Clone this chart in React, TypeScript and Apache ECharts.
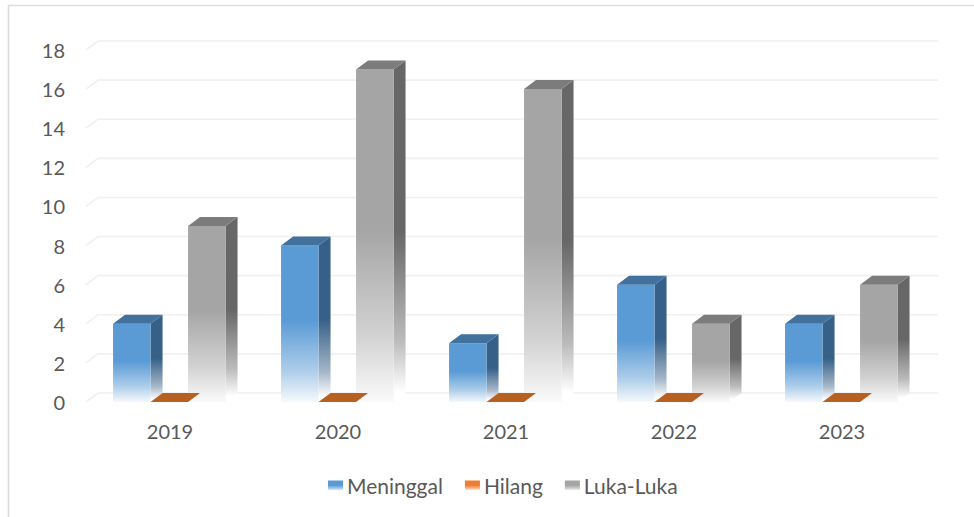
import React, { useEffect, useRef } from "react";
import * as echarts from "echarts";

const categories = ["2019", "2020", "2021", "2022", "2023"];
const meninggal = [4, 8, 3, 6, 4];
const hilang = [0, 0, 0, 0, 0];
const lukaLuka = [9, 17, 16, 4, 6];
const yTicks = [0, 2, 4, 6, 8, 10, 12, 14, 16, 18];

const DX = 12;
const DY = 9;
const BAR_FRACTION = 37.5 / 168;

function mix(hex: string, a: number) {
  const n = parseInt(hex.slice(1), 16);
  const ch = (s: number) => Math.round(((n >> s) & 255) * a + 255 * (1 - a));
  return `rgb(${ch(16)},${ch(8)},${ch(0)})`;
}

const fade = (c: string) =>
  new echarts.graphic.LinearGradient(0, 0, 0, 1, [
    { offset: 0, color: c },
    { offset: 0.48, color: c },
    { offset: 0.8, color: mix(c, 0.5) },
    { offset: 1, color: mix(c, 0.06) },
  ]);

const fadeSide = (c: string) =>
  new echarts.graphic.LinearGradient(0, 0, 0, 1, [
    { offset: 0, color: c },
    { offset: 0.5, color: c },
    { offset: 0.82, color: mix(c, 0.45) },
    { offset: 0.97, color: "#ffffff" },
    { offset: 1, color: "#ffffff" },
  ]);

const barSeries = (
  name: string,
  values: number[],
  slot: number,
  z: number,
  front: string,
  side: string,
  top: string
) => ({
  type: "custom" as const,
  name,
  z,
  itemStyle: { color: fade(front) },
  encode: { x: 0, y: 1 },
  data: values.map((v, i) => [i, v]),
  renderItem: (_: any, api: any) => {
    const p = api.coord([api.value(0), api.value(1)]);
    const base = api.coord([api.value(0), 0]);
    const w = api.size([1, 0])[0] * BAR_FRACTION;
    const l = p[0] + (slot - 1.5) * w - 0.7;
    const r = l + w;
    const t = p[1];
    const b = base[1];
    const children: any[] = [];
    if (b - t > 0.5) {
      children.push({
        type: "polygon",
        shape: { points: [[r, t], [r + DX, t - DY], [r + DX, b - DY], [r, b]] },
        style: { fill: fadeSide(side) },
      });
      children.push({
        type: "rect",
        shape: { x: l, y: t, width: w, height: b - t },
        style: { fill: fade(front) },
      });
    }
    children.push({
      type: "polygon",
      shape: { points: [[l, t], [l + DX, t - DY], [r + DX, t - DY], [r, t]] },
      style: { fill: top },
    });
    return { type: "group", children };
  },
});

export default function App() {
  const ref = useRef<HTMLDivElement>(null);
  useEffect(() => {
    const chart = echarts.init(ref.current!, undefined, { renderer: "svg" });
    chart.setOption({
      animation: false,
      backgroundColor: "#ffffff",
      textStyle: { fontFamily: "Lato" },
      grid: { left: 86, top: 50, width: 840, height: 352 },
      xAxis: {
        type: "category",
        data: categories,
        axisLine: { show: false },
        axisTick: { show: false },
        axisLabel: { color: "#595959", fontSize: 20, margin: 19, fontFamily: "Lato" },
      },
      yAxis: {
        type: "value",
        min: 0,
        max: 18,
        interval: 2,
        axisLine: { show: false },
        axisTick: { show: false },
        splitLine: { show: false },
        axisLabel: { color: "#595959", fontSize: 20, margin: 21, fontFamily: "Lato" },
      },
      legend: {
        data: ["Meninggal", "Hilang", "Luka-Luka"],
        left: 323,
        top: 470,
        itemWidth: 15,
        itemHeight: 10,
        itemGap: 22,
        icon: "rect",
        textStyle: { color: "#595959", fontSize: 21, fontFamily: "Lato", padding: [0, 0, 0, -1] },
      },
      graphic: [
        {
          type: "polyline",
          silent: true,
          shape: { points: [[8.5, 517], [8.5, 5.5], [974, 5.5]] },
          style: { stroke: "#dcdcdc", fill: "none", lineWidth: 1.5 },
        },
      ],
      series: [
        {
          type: "custom",
          name: "grid",
          z: 1,
          silent: true,
          encode: { x: 0, y: 1 },
          data: yTicks.map((v) => [0, v]),
          renderItem: (params: any, api: any) => {
            const y = api.coord([0, api.value(1)])[1];
            const cs = params.coordSys;
            return {
              type: "polyline",
              shape: {
                points: [
                  [cs.x, y],
                  [cs.x + DX, y - DY],
                  [cs.x + cs.width + DX, y - DY],
                ],
              },
              style: { stroke: "#f0f0f0", fill: "none", lineWidth: 1.6 },
            };
          },
        },
        barSeries("Meninggal", meninggal, 0, 3, "#5b9bd5", "#376088", "#41719c"),
        barSeries("Hilang", hilang, 1, 5, "#ed7d31", "#8c4a1c", "#b8601f"),
        barSeries("Luka-Luka", lukaLuka, 2, 4, "#a5a5a5", "#676767", "#7c7c7c"),
      ],
    });
    return () => chart.dispose();
  }, []);
  return (
    <div
      ref={ref}
      style={{ position: "absolute", left: 0, top: 0, width: 974, height: 517 }}
    />
  );
}
